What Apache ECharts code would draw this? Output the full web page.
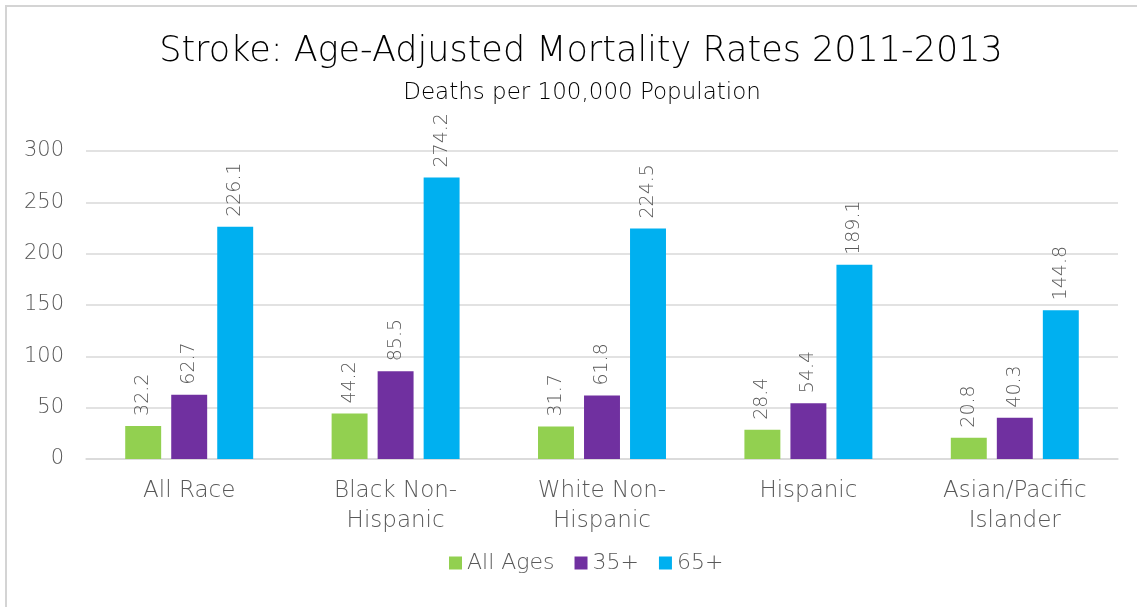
<!DOCTYPE html>
<html>
<head>
<meta charset="utf-8">
<script src="https://cdn.jsdelivr.net/npm/echarts@6/dist/echarts.min.js"></script>
<style>
  html, body { margin: 0; padding: 0; background: #fff; }
  #wrap { position: relative; width: 1137px; height: 607px; }
  #chart { width: 1137px; height: 607px; }
  #frame { position: absolute; left: 5px; top: 5px; width: 1150px; height: 620px;
           border: 2px solid #d4d4d4; pointer-events: none; }
</style>
</head>
<body>
<div id="wrap">
<div id="chart"></div>
<div id="frame"></div>
</div>
<script>
	'use strict';

	var categories = ['All Race', 'Black Non-\nHispanic', 'White Non-\nHispanic', 'Hispanic', 'Asian/Pacific\nIslander'];
	var allAges = [32.2, 44.2, 31.7, 28.4, 20.8];
	var age35 = [62.7, 85.5, 61.8, 54.4, 40.3];
	var age65 = [226.1, 274.2, 224.5, 189.1, 144.8];
	var seriesNames = ['All Ages', '35+', '65+'];

	var font = 'DejaVu Sans';
	var weight = 200;
	var grey = '#595959';

	var barLabel = {
		show: true,
		position: 'top',
		rotate: 90,
		align: 'left',
		verticalAlign: 'middle',
		distance: 10,
		fontFamily: font,
		fontWeight: weight,
		fontSize: 19,
		color: grey,
		formatter: function (p) { return p.value.toFixed(1); }
	};

	function makeSeries(name, data, color) {
		return {
			name: name,
			type: 'bar',
			data: data,
			barGap: '28%',
			barCategoryGap: '38%',
			itemStyle: { color: color },
			label: barLabel
		};
	}

	var chart = echarts.init(document.getElementById('chart'));

	var option = {
		animation: false,
		backgroundColor: '#fff',
		title: [{
			text: 'Stroke: Age-Adjusted Mortality Rates 2011-2013',
			left: 576,
			top: 29,
			textAlign: 'center',
			textStyle: { fontFamily: font, fontSize: 35, fontWeight: weight, color: '#000' }
		}, {
			text: 'Deaths per 100,000 Population',
			left: 577,
			top: 77,
			textAlign: 'center',
			textStyle: { fontFamily: font, fontSize: 23, fontWeight: weight, color: '#000' }
		}],
		legend: {
			data: seriesNames,
			bottom: 28,
			left: 444,
			itemWidth: 13,
			itemHeight: 13,
			itemGap: 20,
			icon: 'rect',
			textStyle: { fontFamily: font, fontWeight: weight, fontSize: 22, color: grey }
		},
		grid: {
			left: 86,
			right: 19,
			top: 151,
			bottom: 148
		},
		xAxis: {
			type: 'category',
			data: categories,
			axisLine: { lineStyle: { color: '#d9d9d9', width: 1.5 } },
			axisTick: { show: false },
			axisLabel: {
				fontFamily: font,
				fontWeight: weight,
				fontSize: 23,
				color: grey,
				margin: 17,
				lineHeight: 30
			}
		},
		yAxis: {
			type: 'value',
			min: 0,
			max: 300,
			interval: 50,
			axisLine: { show: false },
			axisTick: { show: false },
			splitLine: { lineStyle: { color: '#d9d9d9', width: 1.5 } },
			axisLabel: {
				fontFamily: font,
				fontWeight: weight,
				fontSize: 21,
				color: grey,
				margin: 22
			}
		},
		series: [
			makeSeries(seriesNames[0], allAges, '#92D050'),
			makeSeries(seriesNames[1], age35, '#7030A0'),
			makeSeries(seriesNames[2], age65, '#00B0F0')
		]
	};
	chart.setOption(option);
</script>
</body>
</html>
